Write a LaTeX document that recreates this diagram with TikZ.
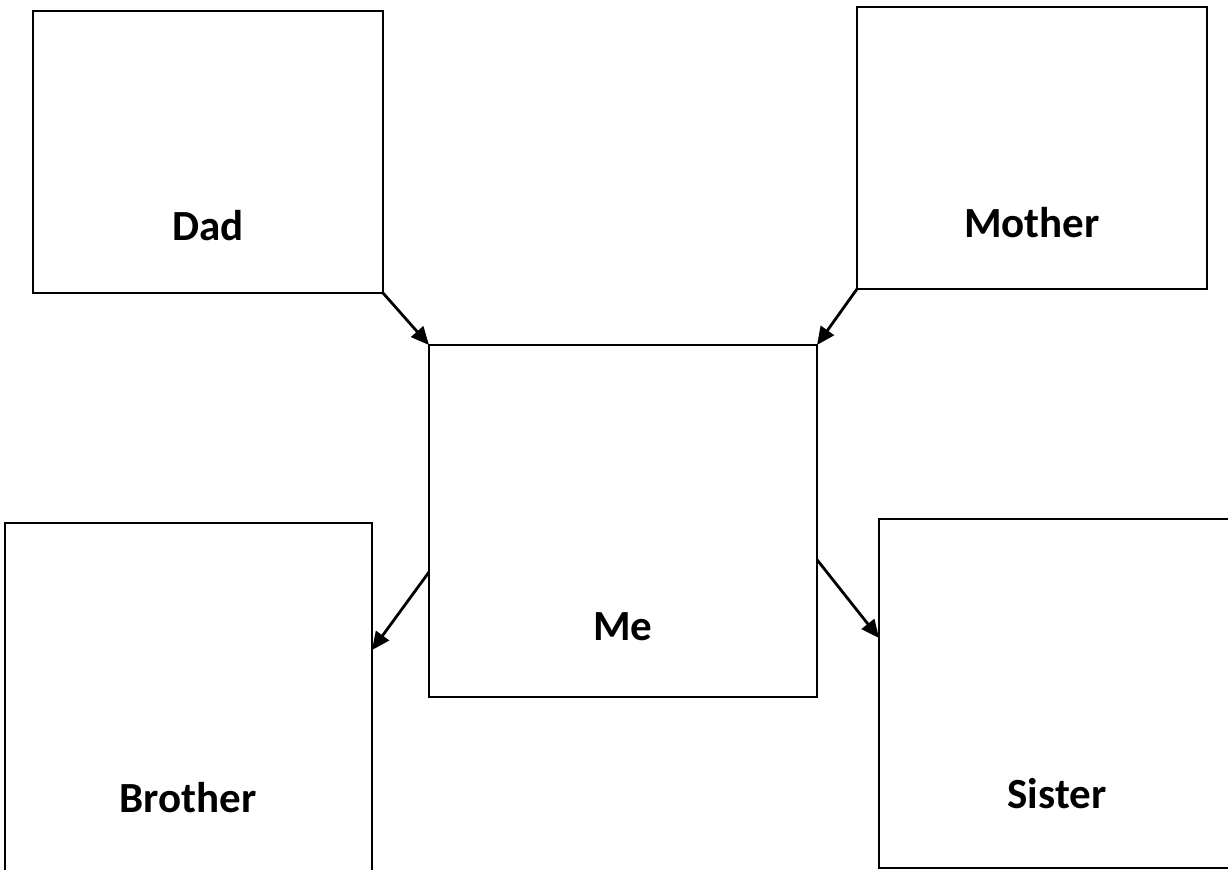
\documentclass[tikz,border=0pt]{standalone}
\usepackage{fontspec}
\setmainfont{Carlito}
\usetikzlibrary{arrows.meta,calc}
\begin{document}
\begin{tikzpicture}[x=0.5pt,y=-0.5pt,
  box/.style={draw=black,line width=0.65pt,fill=white,rectangle,inner sep=0pt,outer sep=0pt},
  lbl/.style={anchor=base,inner sep=0pt,font=\bfseries\fontsize{21.5}{24}\selectfont},
  conn/.style={line width=1.4pt,-{Triangle[length=9pt,width=8pt]}}]
\useasboundingbox (0,0) rectangle (1228,870);
\node[box,minimum width=175pt,minimum height=141pt] (dad) at (208,152) {};
\node[box,minimum width=175pt,minimum height=141pt] (mother) at (1032,148) {};
\node[box,minimum width=194pt,minimum height=176pt] (me) at (623,521) {};
\node[box,minimum width=183.5pt,minimum height=175pt] (brother) at (188.5,698) {};
\node[box,minimum width=178pt,minimum height=174.5pt] (sister) at (1057,693.5) {};
\node[lbl] (tdad) at (208,241) {Dad};
\node[lbl] (tmother) at (1032,238) {Mother};
\node[lbl] (tme) at (623,641) {Me};
\node[lbl] (tbrother) at (188,813) {Brother};
\node[lbl] (tsister) at (1057,809) {Sister};
\draw[conn] (dad.south east) -- (me.north west);
\draw[conn] (mother.south west) -- (me.north east);
\draw[conn] ($(me.north west)!0.645!(me.south west)$) -- ($(brother.north east)!0.363!(brother.south east)$);
\draw[conn] ($(me.north east)!0.61!(me.south east)$) -- ($(sister.north west)!0.341!(sister.south west)$);
\end{tikzpicture}
\end{document}
